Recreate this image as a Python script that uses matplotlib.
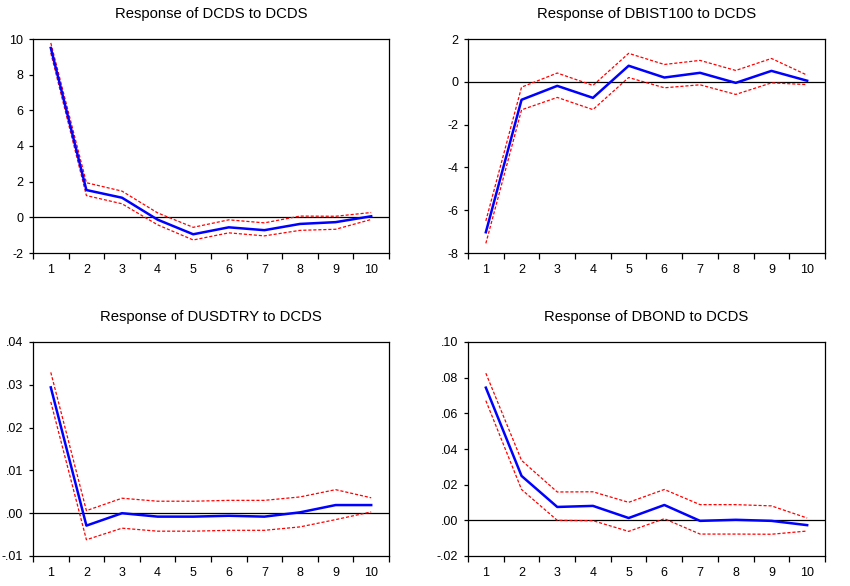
import matplotlib.pyplot as plt
from matplotlib.ticker import FuncFormatter, FixedLocator

plt.rcParams['font.family'] = ['Liberation Sans', 'DejaVu Sans']

periods = list(range(1, 11))

titles = ["Response of DCDS to DCDS", "Response of DBIST100 to DCDS",
          "Response of DUSDTRY to DCDS", "Response of DBOND to DCDS"]

# DCDS -> DCDS
dcds_mid = [9.5, 1.53, 1.1, -0.13, -0.95, -0.56, -0.72, -0.37, -0.27, 0.06]
dcds_up = [9.78, 1.94, 1.47, 0.25, -0.56, -0.14, -0.31, 0.07, 0.06, 0.27]
dcds_lo = [9.22, 1.22, 0.76, -0.42, -1.27, -0.87, -1.04, -0.73, -0.67, -0.12]

# DBIST100 -> DCDS
bist_mid = [-7.03, -0.84, -0.19, -0.75, 0.75, 0.2, 0.42, -0.05, 0.51, 0.05]
bist_up = [-6.5, -0.25, 0.41, -0.17, 1.33, 0.81, 1.0, 0.53, 1.09, 0.31]
bist_lo = [-7.55, -1.31, -0.73, -1.3, 0.2, -0.28, -0.14, -0.59, -0.05, -0.13]

# DUSDTRY -> DCDS
usd_mid = [0.0294, -0.0029, 0.0, -0.0008, -0.0008, -0.0006, -0.0008, 0.0002, 0.0019, 0.0019]
usd_up = [0.0329, 0.0006, 0.0035, 0.0028, 0.0028, 0.003, 0.003, 0.0038, 0.0055, 0.0036]
usd_lo = [0.026, -0.0062, -0.0035, -0.0042, -0.0042, -0.004, -0.004, -0.0032, -0.0015, 0.0003]

# DBOND -> DCDS
bond_mid = [0.0744, 0.0249, 0.0075, 0.0081, 0.0013, 0.0086, -0.0003, 0.0003, -0.0003, -0.0027]
bond_up = [0.0825, 0.0336, 0.0159, 0.016, 0.0101, 0.0173, 0.0088, 0.0088, 0.0081, 0.0013]
bond_lo = [0.0671, 0.0173, 0.0, -0.0002, -0.0062, 0.0009, -0.0077, -0.0077, -0.0078, -0.006]

series = [(dcds_mid, dcds_up, dcds_lo), (bist_mid, bist_up, bist_lo),
          (usd_mid, usd_up, usd_lo), (bond_mid, bond_up, bond_lo)]

ylims = [(-2, 10), (-8, 2), (-0.01, 0.04), (-0.02, 0.10)]
yticks = [[-2, 0, 2, 4, 6, 8, 10], [-8, -6, -4, -2, 0, 2],
          [-0.01, 0.0, 0.01, 0.02, 0.03, 0.04], [-0.02, 0.0, 0.02, 0.04, 0.06, 0.08, 0.10]]


def int_fmt(v, pos):
    return "%d" % round(v)


def dec_fmt(v, pos):
    s = "%.2f" % v
    return s.replace("0.", ".", 1)


fmts = [int_fmt, int_fmt, dec_fmt, dec_fmt]

W, H = 850, 586
# axes boxes in pixels: left, top, right, bottom
boxes = [(33, 39, 389, 253), (468, 39, 825, 253),
         (33, 342, 389, 556), (468, 342, 825, 556)]

fig = plt.figure(figsize=(W / 100, H / 100), dpi=100)

for i in range(4):
    l, t, r, b = boxes[i]
    ax = fig.add_axes([l / W, 1 - b / H, (r - l) / W, (b - t) / H])
    mid, up, lo = series[i]
    ax.axhline(0, color='black', lw=0.9, zorder=1)
    ax.plot(periods, up, color='red', lw=0.9, ls=(0, (2.5, 1.5)), zorder=2)
    ax.plot(periods, lo, color='red', lw=0.9, ls=(0, (2.5, 1.5)), zorder=2)
    ax.plot(periods, mid, color='#0000ff', lw=1.8, zorder=3)
    ax.set_xlim(0.5, 10.5)
    ax.set_ylim(*ylims[i])
    ax.set_yticks(yticks[i])
    ax.yaxis.set_major_formatter(FuncFormatter(fmts[i]))
    ax.set_xticks(periods)
    ax.xaxis.set_minor_locator(FixedLocator([p + 0.5 for p in range(0, 11)]))
    ax.tick_params(axis='x', which='major', length=0, pad=8, labelsize=9)
    ax.tick_params(axis='x', which='minor', length=4, width=0.9, direction='out')
    ax.tick_params(axis='y', length=3, width=0.9, direction='out', pad=4, labelsize=9)
    for sp in ax.spines.values():
        sp.set_linewidth(0.9)
    ax.set_title(titles[i], fontsize=10.7, pad=15)

fig.savefig("out.png", dpi=100)
